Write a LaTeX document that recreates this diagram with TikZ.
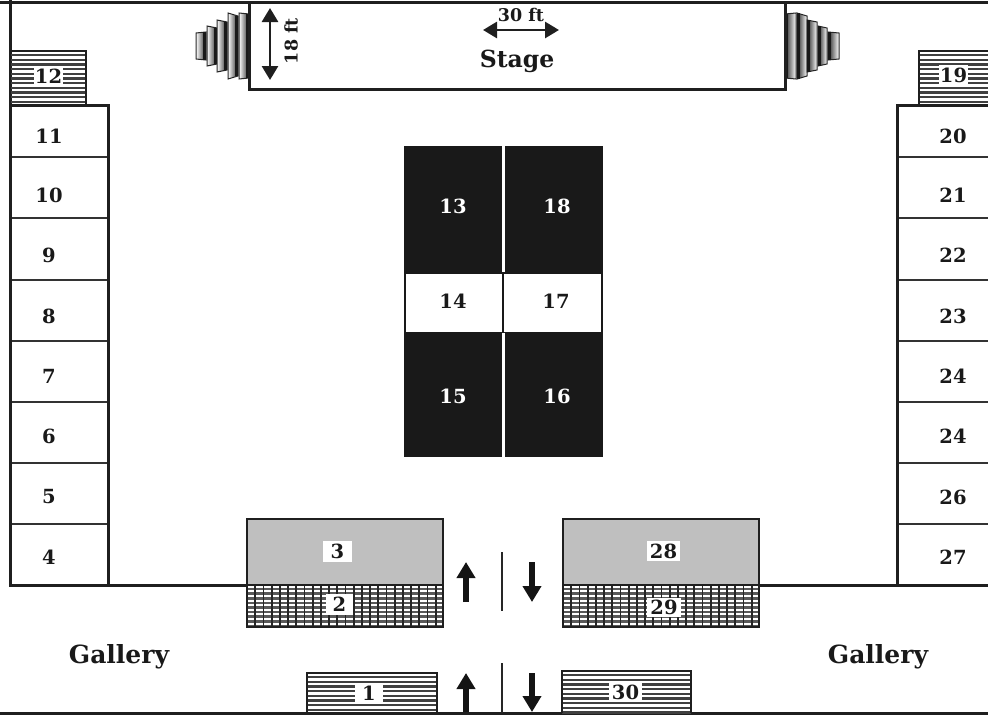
\documentclass[tikz,border=0pt]{standalone}
\usepackage{fontspec}
\setmainfont{DejaVu Serif}
\usetikzlibrary{arrows.meta}
\newcommand{\numfont}{\fontsize{19.5}{21}\selectfont\bfseries}
\newcommand{\wordfont}{\fontsize{23.5}{25}\selectfont\bfseries}
\newcommand{\galfont}{\fontsize{25}{27}\selectfont\bfseries}
\newcommand{\dimfont}{\fontsize{17.5}{19}\selectfont\bfseries}
\tikzset{
  x=1pt,y=-1pt,
  wall/.style={draw=black!88,line width=3pt},
  block/.style={draw=black!88,line width=2.5pt},
  divider/.style={draw=black!80,line width=1.6pt},
  cellbox/.style={divider,fill=white,anchor=north west,inner sep=0pt,outer sep=0pt},
  lbl/.style={font=\numfont,text=black!90,inner sep=0pt},
  wlbl/.style={lbl,text=white},
  wordlbl/.style={lbl,font=\wordfont},
  gallbl/.style={lbl,font=\galfont},
  dimlbl/.style={lbl,font=\dimfont},
  patch/.style={lbl,fill=white,minimum width=#1,minimum height=21pt},
  big arrow/.style={draw=black!92,line width=5.5pt,-{Triangle[length=16pt,width=18pt]}},
  dim arrow/.style={draw=black!88,line width=2.8pt,{Triangle[length=14pt,width=16pt]}-{Triangle[length=14pt,width=16pt]}},
  hatchline/.style={draw=black!75,line width=2.3pt},
  gridh/.style={draw=black!65,line width=2.6pt},
  gridv/.style={draw=black!85,line width=1.8pt},
  aisle/.style={draw=black!85,line width=2.4pt},
  stepedge/.style={draw=black!85,line width=1pt},
  stepdark/.style={draw=black!90,line width=3.5pt},
}
\begin{document}
\begin{tikzpicture}
\useasboundingbox (0,0) rectangle (988,715);
% side cells
\foreach \t/\b/\a/\bb/\ly [count=\i] in {105/157/11/20/136,157/218/10/21/195,218/280/9/22/255,280/341/8/23/316,341/402/7/24/376,402/463/6/24/436,463/524/5/26/497,524/585/4/27/557}{
  \node[cellbox,minimum width=98pt,minimum height={\b-\t}] (L\i) at (10,\t) {};
  \node[lbl] (Lt\i) at (49,\ly) {\a};
  \node[cellbox,minimum width=100pt,minimum height={\b-\t}] (R\i) at (897,\t) {};
  \node[lbl] (Rt\i) at (953,\ly) {\bb};
}
% outer walls
\coordinate (tl) at (0,2); \coordinate (tr) at (988,2);
\coordinate (wl) at (10,0); \coordinate (wlb) at (10,585);
\coordinate (gl) at (247,585); \coordinate (gr) at (988,585); \coordinate (grs) at (759,585);
\coordinate (bl) at (0,713); \coordinate (br) at (988,713);
\coordinate (ci) at (108,105); \coordinate (cib) at (108,585);
\coordinate (di) at (897,105); \coordinate (dib) at (897,585);
\draw[wall] (tl) -- (tr);
\draw[wall] (wl) -- (wlb) -- (gl);
\draw[wall] (grs) -- (gr);
\draw[wall] (bl) -- (br);
\draw[wall] (10,105) -- (ci) -- (cib);
\draw[wall] (988,105) -- (di) -- (dib);
% 12 and 19
\begin{scope}
\clip (10,51) rectangle (86,105);
\foreach \yy in {55,59.7,...,105}{\draw[hatchline] (10,\yy) -- (86,\yy);}
\end{scope}
\draw[block] (10,105) -- (10,51) -- (86,51) -- (86,105);
\node[patch=29pt] (n12) at (48.5,76) {12};
\begin{scope}
\clip (919,51) rectangle (988,105);
\foreach \yy in {55,59.7,...,105}{\draw[hatchline] (919,\yy) -- (988,\yy);}
\end{scope}
\draw[block] (919,105) -- (919,51) -- (988,51);
\node[patch=29pt] (n19) at (953.5,75.5) {19};
% steps
\foreach \xa/\xb/\ha/\hb in {196/206/13/14,207/217/20/18,217/227/26/24,228/238/33/30,239/249/33/32}{
  \shade[left color=white,right color=black!85] (\xa,{46-\ha}) -- (\xb,{46-\hb}) -- (\xb,{46+\hb}) -- (\xa,{46+\ha}) -- cycle;
  \draw[stepedge] (\xa,{46-\ha}) -- (\xb,{46-\hb}) -- (\xb,{46+\hb}) -- (\xa,{46+\ha}) -- cycle;
  \draw[stepdark] (\xb-1.5,{46-\hb}) -- (\xb-1.5,{46+\hb});
}
\foreach \xa/\xb/\ha/\hb in {785/796/32/33,797/807/33/30,807/817/26/24,818/827/20/18,828/839/14/13}{
  \shade[left color=black!85,right color=white] (\xa,{46-\ha}) -- (\xb,{46-\hb}) -- (\xb,{46+\hb}) -- (\xa,{46+\ha}) -- cycle;
  \draw[stepedge] (\xa,{46-\ha}) -- (\xb,{46-\hb}) -- (\xb,{46+\hb}) -- (\xa,{46+\ha}) -- cycle;
  \draw[stepdark] (\xa+1.5,{46-\ha}) -- (\xa+1.5,{46+\ha});
}
% stage
\node[wall,fill=white,minimum width=536pt,minimum height=87pt,anchor=north west,inner sep=0pt,outer sep=0pt] (stage) at (249,2) {};
\node[wordlbl] (stagetxt) at (517,61) {Stage};
\coordinate (a1) at (483,30); \coordinate (a2) at (559,30);
\draw[dim arrow] (a1) -- (a2);
\node[dimlbl] (w30) at (521,15) {30 ft};
\coordinate (a3) at (270,8); \coordinate (a4) at (270,80);
\draw[dim arrow] (a3) -- (a4);
\node[dimlbl,rotate=90] (w18) at (291,41) {18 ft};
% centre block
\fill[black!90] (404,146) rectangle (603,457);
\fill[white] (405.5,274) rectangle (600.5,331.5);
\draw[white,line width=2.2pt] (503.5,146) -- (503.5,272);
\draw[white,line width=2.2pt] (503.5,333) -- (503.5,457);
\draw[black!90,line width=2.4pt] (503,273) -- (503,332);
\node[wlbl] (n13) at (453,206) {13};
\node[wlbl] (n18) at (557,206) {18};
\node[lbl] (n14) at (453,301) {14};
\node[lbl] (n17) at (556,301) {17};
\node[wlbl] (n15) at (453,396) {15};
\node[wlbl] (n16) at (557,396) {16};
% lower blocks
\foreach \xx/\tn in {247/a,563/b}{
  \begin{scope}
    \clip (\xx,585) rectangle ({\xx+196},627);
    \foreach \yy in {589,593.6,...,627}{\draw[gridh] (\xx,\yy) -- ({\xx+196},\yy);}
    \foreach \dd in {0,8.2,...,196}{\draw[gridv] ({\xx+\dd},585) -- ({\xx+\dd},627);}
  \end{scope}
  \node[block,fill=black!25,minimum width=196pt,minimum height=66pt,anchor=north west,inner sep=0pt,outer sep=0pt] (g\tn) at (\xx,519) {};
  \node[block,minimum width=196pt,minimum height=42pt,anchor=north west,inner sep=0pt,outer sep=0pt] (h\tn) at (\xx,585) {};
}
\node[patch=29pt] (n3) at (337.5,551.5) {3};
\node[patch=27pt] (n2) at (339.5,604.5) {2};
\node[patch=33pt,minimum height=20pt] (n28) at (663.5,551) {28};
\node[patch=34pt,minimum height=19pt] (n29) at (664,607.5) {29};
% stairs
\begin{scope}
\clip (307,673) rectangle (437,713);
\foreach \yy in {677,681.7,...,713}{\draw[hatchline] (307,\yy) -- (437,\yy);}
\end{scope}
\draw[block] (307,713) -- (307,673) -- (437,673) -- (437,713);
\node[patch=28pt,minimum height=20pt] (n1) at (369,693) {1};
\begin{scope}
\clip (562,671) rectangle (691,713);
\foreach \yy in {675,679.7,...,713}{\draw[hatchline] (562,\yy) -- (691,\yy);}
\end{scope}
\draw[block] (562,713) -- (562,671) -- (691,671) -- (691,713);
\node[patch=33pt,minimum height=20pt] (n30) at (625.5,692) {30};
% arrows
\coordinate (u1a) at (466,602); \coordinate (u1b) at (466,562);
\coordinate (d1a) at (532,562); \coordinate (d1b) at (532,602);
\coordinate (u2a) at (466,712); \coordinate (u2b) at (466,673);
\coordinate (d2a) at (532,673); \coordinate (d2b) at (532,712);
\draw[big arrow] (u1a) -- (u1b);
\draw[big arrow] (d1a) -- (d1b);
\draw[big arrow] (u2a) -- (u2b);
\draw[big arrow] (d2a) -- (d2b);
\coordinate (s1a) at (502,552); \coordinate (s1b) at (502,611);
\coordinate (s2a) at (502,663); \coordinate (s2b) at (502,713);
\draw[aisle] (s1a) -- (s1b);
\draw[aisle] (s2a) -- (s2b);
% gallery
\node[gallbl] (g1) at (119,657) {Gallery};
\node[gallbl] (g2) at (878,657) {Gallery};
\end{tikzpicture}
\end{document}
